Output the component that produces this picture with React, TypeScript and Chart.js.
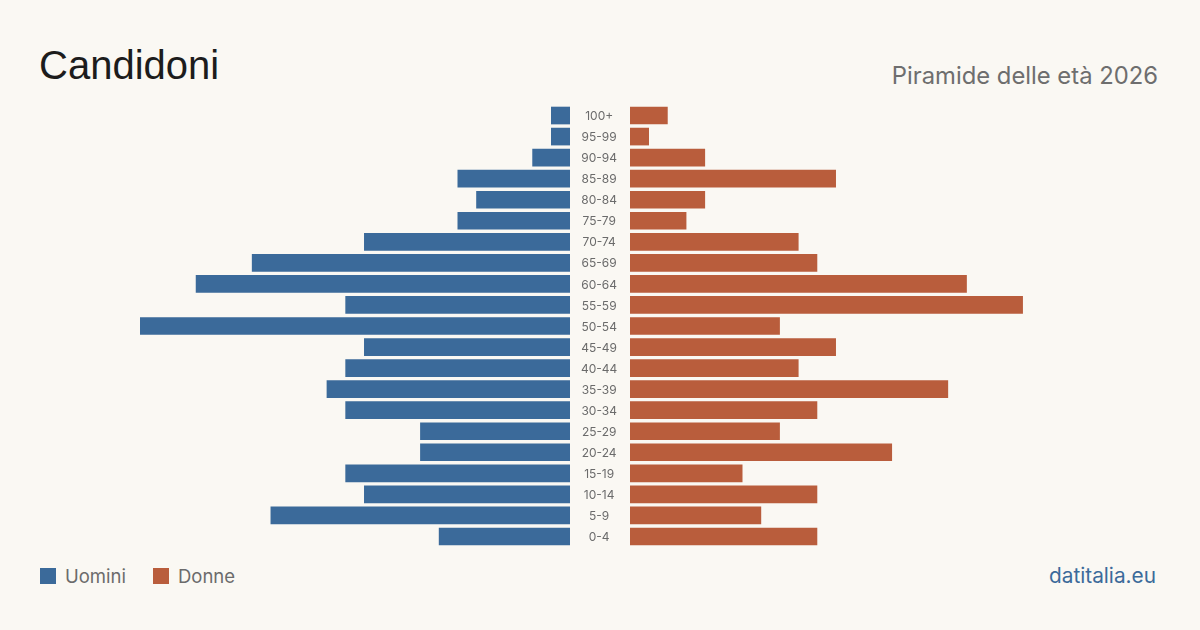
import React, { useEffect, useRef } from "react";
import { Chart, registerables } from "chart.js";

Chart.register(...registerables);

const ageGroups = [
  "100+", "95-99", "90-94", "85-89", "80-84", "75-79", "70-74", "65-69",
  "60-64", "55-59", "50-54", "45-49", "40-44", "35-39", "30-34", "25-29",
  "20-24", "15-19", "10-14", "5-9", "0-4",
];
const uomini = [1, 1, 2, 6, 5, 6, 11, 17, 20, 12, 23, 11, 12, 13, 12, 8, 8, 12, 11, 16, 7];
const donne = [2, 1, 4, 11, 4, 3, 9, 10, 18, 21, 8, 11, 9, 17, 10, 8, 14, 6, 10, 7, 10];

const BLUE = "#3b6a9a";
const ORANGE = "#b95d3c";
const BG = "#faf8f3";
const FONT = "Inter, 'Noto Sans', sans-serif";

const axisMax = Math.max(...uomini, ...donne);

function PyramidSide({ side }: { side: "left" | "right" }) {
  const ref = useRef<HTMLCanvasElement | null>(null);
  useEffect(() => {
    if (!ref.current) return;
    const isLeft = side === "left";
    const chart = new Chart(ref.current, {
      type: "bar",
      data: {
        labels: ageGroups,
        datasets: [
          {
            label: isLeft ? "Uomini" : "Donne",
            data: isLeft ? uomini : donne,
            backgroundColor: isLeft ? BLUE : ORANGE,
            barThickness: 17,
            borderWidth: 0,
          },
        ],
      },
      options: {
        indexAxis: "y",
        animation: false,
        responsive: false,
        maintainAspectRatio: false,
        layout: { padding: 0 },
        plugins: { legend: { display: false }, tooltip: { enabled: false } },
        scales: {
          x: {
            display: false,
            min: 0,
            max: axisMax,
            reverse: isLeft,
          },
          y: {
            display: isLeft,
            position: "right",
            grid: { display: false },
            border: { display: false },
            afterFit: (axis: any) => {
              // age labels sit in a fixed 60px column between the two halves
              if (isLeft) axis.width = 60;
              axis.paddingTop = 0;
              axis.paddingBottom = 0;
            },
            ticks: {
              padding: 3,
              labelOffset: 1,
              crossAlign: "center",
              color: "#6b6b6b",
              font: { family: FONT, size: 12 },
              autoSkip: false,
            },
          },
        },
      },
    });
    return () => chart.destroy();
  }, [side]);
  const w = side === "left" ? 490 : 430;
  return <canvas ref={ref} width={w} height={442} style={{ width: w, height: 442, display: "block" }} />;
}

export default function App() {
  return (
    <div
      style={{
        position: "fixed",
        left: 0,
        top: 0,
        width: 1200,
        height: 630,
        background: BG,
        overflow: "hidden",
        fontFamily: FONT,
      }}
    >
      <div
        style={{
          position: "absolute",
          left: 39,
          top: 42,
          fontFamily: "'Liberation Sans', Arial, sans-serif",
          fontSize: 40,
          color: "#1c1c1c",
          lineHeight: "46px",
        }}
      >
        Candidoni
      </div>
      <div
        style={{
          position: "absolute",
          right: 42,
          top: 62,
          fontSize: 23.8,
          color: "#6e6e6e",
          lineHeight: "28px",
        }}
      >
        Piramide delle età 2026
      </div>

      <div style={{ position: "absolute", left: 140, top: 105 }}>
        <PyramidSide side="left" />
      </div>
      <div style={{ position: "absolute", left: 630, top: 105 }}>
        <PyramidSide side="right" />
      </div>

      <div
        style={{
          position: "absolute",
          left: 40,
          top: 564,
          display: "flex",
          alignItems: "center",
          fontSize: 18.5,
          color: "#6b6b6b",
          lineHeight: "24px",
        }}
      >
        <span style={{ width: 16, height: 16, background: BLUE, display: "inline-block", marginRight: 9 }} />
        <span style={{ marginRight: 27 }}>Uomini</span>
        <span style={{ width: 16, height: 16, background: ORANGE, display: "inline-block", marginRight: 9 }} />
        <span>Donne</span>
      </div>
      <div
        style={{
          position: "absolute",
          right: 44,
          top: 563,
          fontSize: 20.8,
          color: BLUE,
          lineHeight: "26px",
        }}
      >
        datitalia.eu
      </div>
    </div>
  );
}
